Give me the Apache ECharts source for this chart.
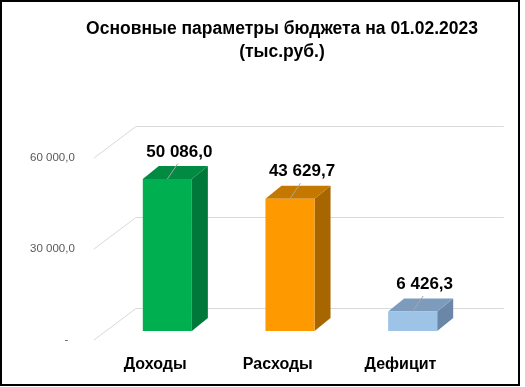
<!DOCTYPE html>
<html>
<head>
<meta charset="utf-8">
<script src="https://cdn.jsdelivr.net/npm/echarts@6/dist/echarts.min.js"></script>
<style>html,body{margin:0;padding:0;background:#fff}#c{width:525px;height:387px}</style>
</head>
<body>
<div id="c"></div>
<script>
const categories = ['Доходы', 'Расходы', 'Дефицит'];
const values = [50086.0, 43629.7, 6426.3];
const yTicks = [0, 30000, 60000];
const palette = [
  {front: '#00B050', side: '#00783A', top: '#008A42'},
  {front: '#FF9900', side: '#A86600', top: '#C57800'},
  {front: '#9DC3E6', side: '#6A87A8', top: '#7C9BBD'}
];

function fmt(v) {
  if (v === 0) return '-  ';
  const s = v.toFixed(1).split('.');
  return s[0].replace(/\B(?=(\d{3})+(?!\d))/g, ' ') + ',' + s[1];
}

// depth geometry: bar plane -> front plane / back wall
const FRONT = [-12.2, 9.1];
const BACK = [29.8, -22.4];
const BAR_D = [16, -13];
const FONT = '"Liberation Sans", Arial, sans-serif';

const chart = echarts.init(document.getElementById('c'));
const yBase = {type: 'value', min: 0, max: 60000, interval: 30000};
chart.setOption({
  backgroundColor: '#fff',
  animation: false,
  title: {
    text: 'Основные параметры бюджета на 01.02.2023\n(тыс.руб.)',
    left: 277, top: 12, textAlign: 'center',
    textStyle: {fontFamily: FONT, fontWeight: 'bold', fontSize: 17.5, lineHeight: 23.5, color: '#000'}
  },
  graphic: [{
    type: 'rect', shape: {x: 1, y: 1, width: 518, height: 384},
    style: {fill: null, stroke: '#000', lineWidth: 2}, z: 100
  }],
  grid: [
    {left: 106, top: 149, width: 368, height: 182},
    {left: 93.8, top: 158, width: 368, height: 182},
    {left: 135.8, top: 126.6, width: 368, height: 182}
  ],
  xAxis: [
    {type: 'category', data: categories, gridIndex: 0, show: false},
    {type: 'category', data: categories, gridIndex: 1,
      axisLine: {show: false}, axisTick: {show: false},
      axisLabel: {margin: 17, fontFamily: FONT, fontWeight: 'bold', fontSize: 16, color: '#000'}},
    {type: 'category', data: categories, gridIndex: 2, show: false}
  ],
  yAxis: [
    Object.assign({gridIndex: 0, show: false}, yBase),
    Object.assign({gridIndex: 1, axisLine: {show: false}, axisTick: {show: false}, splitLine: {show: false},
      axisLabel: {margin: 19, fontFamily: FONT, fontSize: 11.5, color: '#595959', formatter: fmt}}, yBase),
    Object.assign({gridIndex: 2, axisLine: {show: false}, axisTick: {show: false}, axisLabel: {show: false},
      splitLine: {show: true, lineStyle: {color: '#d9d9d9', width: 1}}}, yBase)
  ],
  series: [
    {
      type: 'custom', xAxisIndex: 0, yAxisIndex: 0, z: 1,
      data: yTicks.map(v => [0, v]),
      renderItem: function (params, api) {
        const p = api.coord([0, api.value(1)]);
        const x = p[0] - api.size([1, 0])[0] / 2;
        return {
          type: 'line',
          shape: {x1: x + FRONT[0], y1: p[1] + FRONT[1], x2: x + BACK[0], y2: p[1] + BACK[1]},
          style: {stroke: '#d9d9d9', lineWidth: 1}
        };
      }
    },
    {
      type: 'custom', xAxisIndex: 0, yAxisIndex: 0, z: 5,
      data: values.map((v, i) => [i, v]),
      renderItem: function (params, api) {
        const i = api.value(0), v = api.value(1);
        const top = api.coord([i, v]);
        const base = api.coord([i, 0]);
        const w = api.size([1, 0])[0] * 0.4;
        const x1 = top[0] - w / 2, x2 = top[0] + w / 2, yt = top[1], yb = base[1];
        const dx = BAR_D[0], dy = BAR_D[1];
        const c = palette[i];
        return {
          type: 'group',
          children: [
            {type: 'polygon', shape: {points: [[x2, yt], [x2 + dx, yt + dy], [x2 + dx, yb + dy], [x2, yb]]}, style: {fill: c.side}},
            {type: 'polygon', shape: {points: [[x1, yt], [x2, yt], [x2 + dx, yt + dy], [x1 + dx, yt + dy]]}, style: {fill: c.top}},
            {type: 'rect', shape: {x: x1, y: yt, width: w, height: yb - yt}, style: {fill: c.front}},
            {type: 'line', shape: {x1: top[0] + 10.5, y1: yt - 15.5, x2: top[0], y2: yt}, style: {stroke: '#a6a6a6', lineWidth: 1}},
            {type: 'text', style: {text: fmt(v), x: top[0] + 12, y: yt - 27, align: 'center', verticalAlign: 'middle',
              fontFamily: FONT, fontWeight: 'bold', fontSize: 17, fill: '#000'}}
          ]
        };
      }
    }
  ]
});
</script>
</body>
</html>
